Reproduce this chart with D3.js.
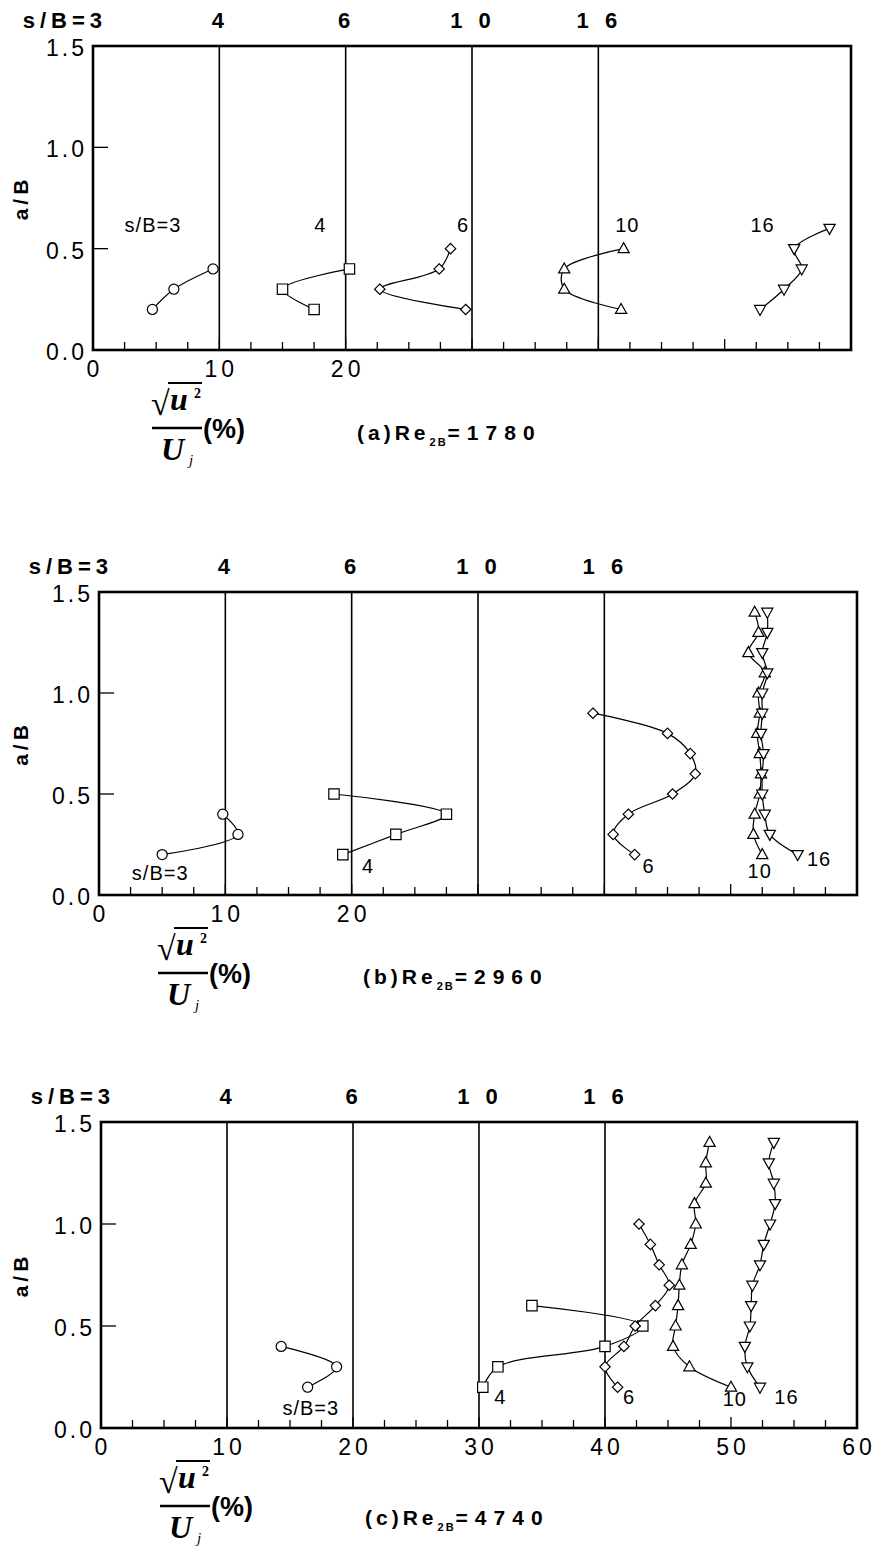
<!DOCTYPE html>
<html>
<head>
<meta charset="utf-8">
<script src="https://cdn.jsdelivr.net/npm/d3@7"></script>
<style>
  body { margin: 0; background: #fff; }
  text { fill: #000; }
</style>
</head>
<body>
<svg id="chart" width="877" height="1546"></svg>
<script>
// ---- station headers (s/B) and the x offset each profile is shifted by ----
const stationNames   = ["3", "4", "6", "10", "16"];
const stationHeaders = ["3", "4", "6", "1 0", "1 6"];
const stationOffsets = [0, 10, 20, 30, 40];

// ---- axis ticks ----
const yTickValues = [0.0, 0.5, 1.0, 1.5];
const yTickLabels = ["0.0", "0.5", "1.0", "1.5"];
const xMinorStep = 2.5;

// ---- (a) Re2B = 1780 : [sqrt(u'^2)/Uj (%) incl. offset, a/B] ----
const a_sB3  = [[4.7, 0.2], [6.4, 0.3], [9.5, 0.4]];
const a_sB4  = [[17.5, 0.2], [15.0, 0.3], [20.3, 0.4]];
const a_sB6  = [[29.5, 0.2], [22.7, 0.3], [27.4, 0.4], [28.3, 0.5]];
const a_sB10 = [[41.8, 0.2], [37.3, 0.3], [37.3, 0.4], [42.0, 0.5]];
const a_sB16 = [[52.8, 0.2], [54.7, 0.3], [56.1, 0.4], [55.5, 0.5], [58.3, 0.6]];

// ---- (b) Re2B = 2960 ----
const b_sB3  = [[5.0, 0.2], [11.0, 0.3], [9.8, 0.4]];
const b_sB4  = [[19.3, 0.2], [23.5, 0.3], [27.5, 0.4], [18.6, 0.5]];
const b_sB6  = [[42.4, 0.2], [40.7, 0.3], [41.9, 0.4], [45.4, 0.5], [47.2, 0.6],
                [46.8, 0.7], [45.0, 0.8], [39.1, 0.9]];
const b_sB10 = [[52.5, 0.2], [51.8, 0.3], [51.9, 0.4], [52.3, 0.5], [52.4, 0.6],
                [52.3, 0.7], [52.1, 0.8], [52.3, 0.9], [52.2, 1.0], [52.7, 1.1],
                [51.4, 1.2], [52.2, 1.3], [51.9, 1.4]];
const b_sB16 = [[55.3, 0.2], [53.1, 0.3], [52.7, 0.4], [52.5, 0.5], [52.5, 0.6],
                [52.6, 0.7], [52.4, 0.8], [52.5, 0.9], [52.5, 1.0], [52.9, 1.1],
                [52.5, 1.2], [52.9, 1.3], [52.9, 1.4]];

// ---- (c) Re2B = 4740 ----
const c_sB3  = [[16.4, 0.2], [18.7, 0.3], [14.3, 0.4]];
const c_sB4  = [[30.3, 0.2], [31.5, 0.3], [40.0, 0.4], [43.0, 0.5], [34.2, 0.6]];
const c_sB6  = [[41.0, 0.2], [40.0, 0.3], [41.5, 0.4], [42.4, 0.5], [44.0, 0.6],
                [45.1, 0.7], [44.3, 0.8], [43.6, 0.9], [42.7, 1.0]];
const c_sB10 = [[50.0, 0.2], [46.7, 0.3], [45.4, 0.4], [45.6, 0.5], [45.8, 0.6],
                [45.9, 0.7], [46.1, 0.8], [46.8, 0.9], [47.2, 1.0], [47.1, 1.1],
                [48.0, 1.2], [48.0, 1.3], [48.3, 1.4]];
const c_sB16 = [[52.3, 0.2], [51.3, 0.3], [51.1, 0.4], [51.5, 0.5], [51.6, 0.6],
                [51.7, 0.7], [52.3, 0.8], [52.6, 0.9], [53.1, 1.0], [53.5, 1.1],
                [53.4, 1.2], [53.0, 1.3], [53.4, 1.4]];

// marker shape per station (circle, square, diamond, triangle up, triangle down)
const markerKinds = ["circle", "square", "diamond", "triUp", "triDown"];

// ---- panel layout (pixel boxes and label anchors in data units) ----
const panels = [
  { tag: "(a)", re: "1780", series: [a_sB3, a_sB4, a_sB6, a_sB10, a_sB16],
    box: { left: 93, top: 46, right: 851, bottom: 350 }, titleGap: 90,
    xLabels: [0, 10, 20],
    labels: [[2.5, 0.58, "start", "s/B=3"], [18.0, 0.58, "middle", "4"], [29.3, 0.58, "middle", "6"],
             [42.3, 0.58, "middle", "10"], [53.0, 0.58, "middle", "16"]] },
  { tag: "(b)", re: "2960", series: [b_sB3, b_sB4, b_sB6, b_sB10, b_sB16],
    box: { left: 99, top: 592, right: 857, bottom: 895 }, titleGap: 89,
    xLabels: [0, 10, 20],
    labels: [[2.6, 0.075, "start", "s/B=3"], [21.3, 0.11, "middle", "4"], [43.5, 0.11, "middle", "6"],
             [52.3, 0.085, "middle", "10"], [57.0, 0.145, "middle", "16"]] },
  { tag: "(c)", re: "4740", series: [c_sB3, c_sB4, c_sB6, c_sB10, c_sB16],
    box: { left: 101, top: 1122, right: 857, bottom: 1428 }, titleGap: 97,
    xLabels: [0, 10, 20, 30, 40, 50, 60],
    labels: [[14.4, 0.064, "start", "s/B=3"], [31.7, 0.12, "middle", "4"], [41.9, 0.12, "middle", "6"],
             [50.3, 0.108, "middle", "10"], [54.4, 0.118, "middle", "16"]] }
];

const svg = d3.select("#chart");
const SANS = "'Liberation Sans', Arial, Helvetica, sans-serif";
const SERIF = "'Liberation Serif', 'Times New Roman', serif";

function markerPath(kind) {
  switch (kind) {
    case "circle":  return d3.symbol(d3.symbolCircle, 80)();
    case "square":  return "M-5.2,-5.2H5.2V5.2H-5.2Z";
    case "diamond": return "M0,-5.2L5.2,0L0,5.2L-5.2,0Z";
    case "triUp":   return "M0,-6L5.6,4L-5.6,4Z";
    case "triDown": return "M0,6L5.6,-4L-5.6,-4Z";
  }
}

panels.forEach(p => {
  const b = p.box;
  const x = d3.scaleLinear().domain([0, 60]).range([b.left, b.right]);
  const y = d3.scaleLinear().domain([0, 1.5]).range([b.bottom, b.top]);
  const g = svg.append("g");

  // station separators at each profile origin
  g.selectAll("line.sep").data(stationOffsets.slice(1)).join("line")
    .attr("x1", d => x(d)).attr("x2", d => x(d))
    .attr("y1", y(0)).attr("y2", y(1.5))
    .attr("stroke", "#000").attr("stroke-width", 1.6);

  // bottom ticks (inward, every 2.5)
  const minor = d3.range(0, 60 + 1e-9, xMinorStep);
  g.selectAll("line.xt").data(minor).join("line")
    .attr("x1", d => x(d)).attr("x2", d => x(d))
    .attr("y1", y(0)).attr("y2", d => y(0) - (d % 10 === 0 ? 11 : 8))
    .attr("stroke", "#000").attr("stroke-width", 1.3);

  // left ticks (inward)
  g.selectAll("line.yt").data(yTickValues.slice(1, 3)).join("line")
    .attr("x1", x(0)).attr("x2", x(0) + 15)
    .attr("y1", d => y(d)).attr("y2", d => y(d))
    .attr("stroke", "#000").attr("stroke-width", 1.3);

  // frame
  g.append("rect")
    .attr("x", x(0)).attr("y", y(1.5))
    .attr("width", x(60) - x(0)).attr("height", y(0) - y(1.5))
    .attr("fill", "none").attr("stroke", "#000").attr("stroke-width", 2.6);

  // y tick labels
  g.selectAll("text.yl").data(yTickValues).join("text")
    .attr("x", x(0) - 6).attr("y", d => y(d) + 10)
    .attr("text-anchor", "end")
    .attr("font-family", SANS).attr("font-size", 23)
    .attr("letter-spacing", 3)
    .text((d, i) => yTickLabels[i]);

  // x tick labels
  g.selectAll("text.xl").data(p.xLabels).join("text")
    .attr("x", d => x(d) + 2).attr("y", y(0) + 27)
    .attr("text-anchor", "middle")
    .attr("font-family", SANS).attr("font-size", 23)
    .attr("letter-spacing", 4)
    .text(d => d);

  // y axis title
  g.append("text")
    .attr("transform", `translate(28,${(y(0) + y(1.5)) / 2}) rotate(-90)`)
    .attr("text-anchor", "middle")
    .attr("font-family", SANS).attr("font-weight", "bold").attr("font-size", 21)
    .attr("letter-spacing", 4)
    .text("a/B");

  // station headers above the frame
  stationHeaders.forEach((h, i) => {
    const t = g.append("text")
      .attr("y", y(1.5) - 18)
      .attr("font-family", SANS).attr("font-weight", "bold").attr("font-size", 22)
      .attr("letter-spacing", 5);
    if (i === 0) {
      t.attr("x", x(stationOffsets[0]) + 14).attr("text-anchor", "end").text("s/B=" + h);
    } else {
      t.attr("x", x(stationOffsets[i]) + 1).attr("text-anchor", "middle").text(h);
    }
  });

  // profiles
  const line = d3.line().x(d => x(d[0])).y(d => y(d[1])).curve(d3.curveCatmullRom.alpha(0.5));
  p.series.forEach((s, i) => {
    g.append("path").attr("d", line(s))
      .attr("fill", "none").attr("stroke", "#000").attr("stroke-width", 1.2);
    g.selectAll(null).data(s).join("path")
      .attr("transform", d => `translate(${x(d[0])},${y(d[1])})`)
      .attr("d", markerPath(markerKinds[i]))
      .attr("fill", "#fff").attr("stroke", "#000").attr("stroke-width", 1.2);
  });

  // profile labels
  p.labels.forEach(l => {
    g.append("text")
      .attr("x", x(l[0])).attr("y", y(l[1]))
      .attr("text-anchor", l[2])
      .attr("font-family", SANS).attr("font-size", 20)
      .attr("letter-spacing", 1)
      .text(l[3]);
  });

  // quantity label: sqrt(u'^2) / Uj (%)
  const fx = b.left + 59, fy = b.bottom + 78;
  const f = g.append("g");
  f.append("text").attr("x", fx - 1).attr("y", fy - 13)
    .attr("font-family", SERIF).attr("font-weight", "bold").attr("font-size", 34).text("√");
  f.append("line").attr("x1", fx + 16).attr("x2", fx + 50)
    .attr("y1", fy - 45).attr("y2", fy - 45)
    .attr("stroke", "#000").attr("stroke-width", 2.2);
  f.append("text").attr("x", fx + 18).attr("y", fy - 18)
    .attr("font-family", SERIF).attr("font-weight", "bold").attr("font-style", "italic")
    .attr("font-size", 32).text("u");
  f.append("text").attr("x", fx + 42).attr("y", fy - 30)
    .attr("font-family", SERIF).attr("font-weight", "bold").attr("font-size", 14).text("2");
  f.append("line").attr("x1", fx).attr("x2", fx + 50)
    .attr("y1", fy).attr("y2", fy)
    .attr("stroke", "#000").attr("stroke-width", 2.6);
  f.append("text").attr("x", fx + 9).attr("y", fy + 32)
    .attr("font-family", SERIF).attr("font-weight", "bold").attr("font-style", "italic")
    .attr("font-size", 32).text("U");
  f.append("text").attr("x", fx + 37).attr("y", fy + 37)
    .attr("font-family", SERIF).attr("font-style", "italic")
    .attr("font-size", 15).text("j");
  f.append("text").attr("x", fx + 51).attr("y", fy + 10)
    .attr("font-family", SANS).attr("font-weight", "bold").attr("font-size", 27).text("(%)");

  // panel title
  const tt = g.append("text").attr("x", b.left + 264).attr("y", b.bottom + p.titleGap)
    .attr("font-family", SANS).attr("font-weight", "bold").attr("font-size", 21);
  tt.append("tspan").attr("letter-spacing", 4).text(p.tag + "Re");
  tt.append("tspan").attr("font-size", 11).attr("dy", 6).attr("letter-spacing", 2).text("2B");
  tt.append("tspan").attr("dy", -6).attr("letter-spacing", 7).text("=" + p.re);
});
</script>
</body>
</html>
